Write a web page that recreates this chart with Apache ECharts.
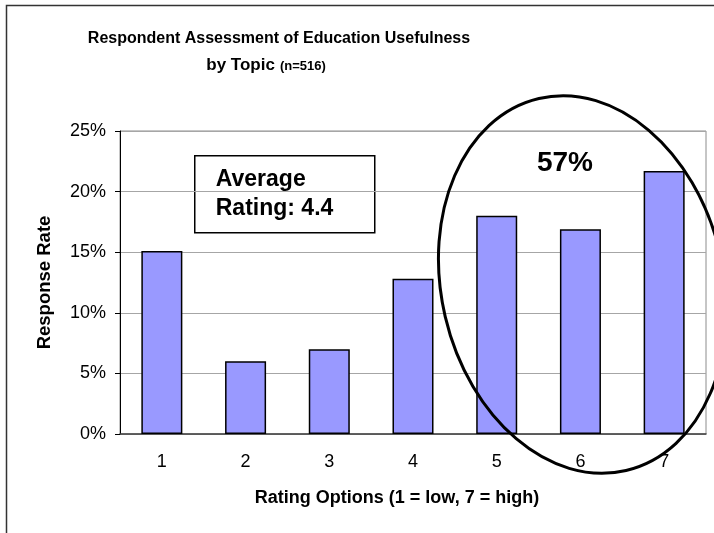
<!DOCTYPE html>
<html>
<head>
<meta charset="utf-8">
<script src="https://cdn.jsdelivr.net/npm/echarts@6/dist/echarts.min.js"></script>
<style>
    html, body { margin: 0; padding: 0; background: #fff; }
    #chart { width: 714px; height: 533px; }
</style>
</head>
<body>
<div id="chart"></div>
<script>
// rating options 1..7 and share of respondents (%)
const ratings = ['1', '2', '3', '4', '5', '6', '7']
const responseRate = [15.1, 6.0, 7.0, 12.8, 18.0, 16.9, 21.7]
const yTicks = { min: 0, max: 25, interval: 5 }

const chart = echarts.init(document.getElementById('chart'))
const font = "'Liberation Sans', Arial, sans-serif"

const option = {
    animation: false,
    textStyle: { fontFamily: font },
    title: [{
        text: 'Respondent Assessment of Education Usefulness',
        left: 274,
        top: 26,
        textAlign: 'center',
        textStyle: { fontSize: 16, fontWeight: 'bold', color: '#000' }
    }, {
        text: '{a|by Topic} {b|(n=516)}',
        left: 261,
        top: 51,
        textAlign: 'center',
        textStyle: {
            rich: {
                a: { fontSize: 17, fontWeight: 'bold', color: '#000', fontFamily: font },
                b: { fontSize: 13, fontWeight: 'bold', color: '#000', fontFamily: font, padding: [3, 0, 0, 0] }
            }
        }
    }],
    grid: {
        left: 120,
        top: 131,
        right: 8,
        bottom: 99,
        show: true,
        borderColor: '#8c8c8c',
        borderWidth: 1
    },
    xAxis: {
        type: 'category',
        data: ratings,
        name: 'Rating Options (1 = low, 7 = high)',
        nameLocation: 'middle',
        nameGap: 55,
        nameTextStyle: { fontSize: 18, fontWeight: 'bold', color: '#000', padding: [0, 32, 0, 0] },
        axisLine: { lineStyle: { color: '#404040', width: 1.5 } },
        axisTick: { show: false },
        axisLabel: { fontSize: 18, color: '#000', margin: 19 }
    },
    yAxis: {
        type: 'value',
        min: yTicks.min,
        max: yTicks.max,
        interval: yTicks.interval,
        name: 'Response Rate',
        nameLocation: 'middle',
        nameGap: 66,
        nameTextStyle: { fontSize: 18.5, fontWeight: 'bold', color: '#000' },
        axisLine: { show: true, lineStyle: { color: '#000', width: 1 } },
        axisTick: { show: true, length: 5, lineStyle: { color: '#000' } },
        axisLabel: { fontSize: 18, color: '#000', margin: 14, formatter: '{value}%' },
        splitLine: { lineStyle: { color: '#a6a6a6', width: 1 } }
    },
    series: [{
        type: 'bar',
        data: responseRate,
        barWidth: '49%',
        itemStyle: {
            color: '#9999FF',
            borderColor: '#000',
            borderWidth: 1.5
        }
    }],
    graphic: [
        {
            // outer chart frame
            type: 'rect',
            silent: true,
            shape: { x: 6.5, y: 5.5, width: 800, height: 600 },
            style: { fill: 'none', stroke: '#333', lineWidth: 1.5 }
        },
        {
            type: 'group',
            left: 194,
            top: 155,
            children: [{
                type: 'rect',
                shape: { x: 0, y: 0, width: 180, height: 77 },
                style: { fill: '#fff', stroke: '#000', lineWidth: 1.5 }
            }, {
                type: 'text',
                x: 21,
                y: 9,
                style: {
                    text: 'Average\nRating: 4.4',
                    font: "bold 23px 'Liberation Sans', Arial, sans-serif",
                    lineHeight: 29,
                    fill: '#000'
                }
            }]
        },
        {
            type: 'text',
            x: 565,
            y: 163,
            z: 100,
            style: {
                text: '57%',
                font: "bold 28px 'Liberation Sans', Arial, sans-serif",
                fill: '#000',
                align: 'center',
                verticalAlign: 'middle'
            }
        },
        {
            // highlight ring round ratings 5-7
            type: 'ellipse',
            x: 582.5,
            y: 284.5,
            rotation: 0.23,
            z: 100,
            shape: { cx: 0, cy: 0, rx: 141, ry: 191 },
            style: { fill: 'none', stroke: '#000', lineWidth: 3 }
        }
    ]
}

chart.setOption(option)
</script>
</body>
</html>
